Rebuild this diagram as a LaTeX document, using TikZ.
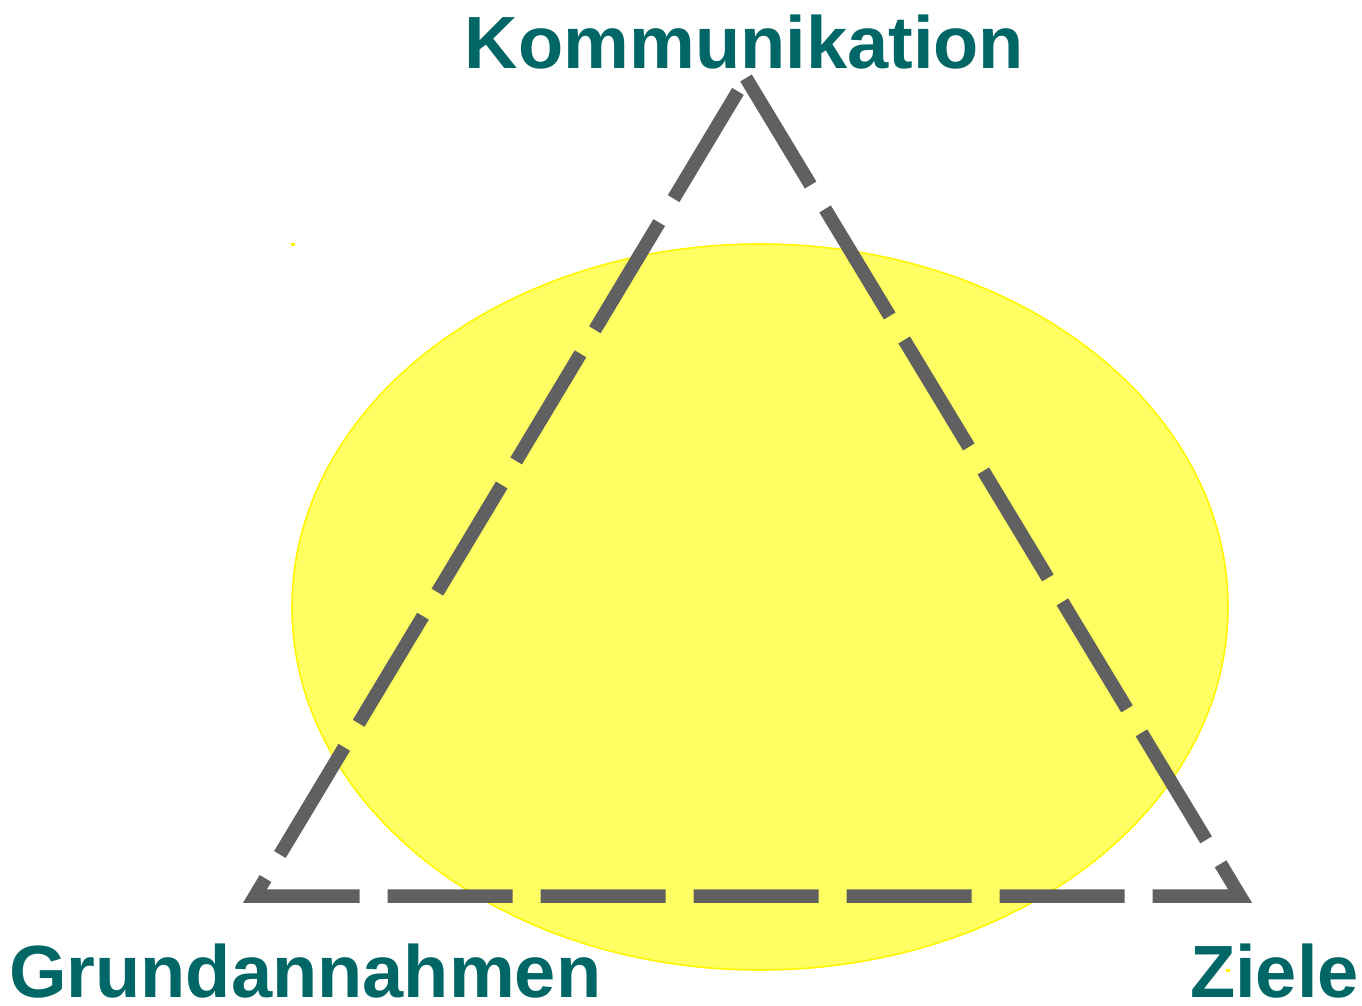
\documentclass[tikz,border=0pt]{standalone}
\usepackage{fontspec}
\setmainfont{Liberation Sans}
\begin{document}
\begin{tikzpicture}[x=1pt,y=-1pt,
  lbl/.style={text=teal66, font=\fontsize{74}{80}\selectfont\bfseries, inner sep=0pt},
  tri/.style={draw=grey60, line width=13.5pt, line cap=butt, line join=miter, dash pattern=on 125pt off 28pt},
  blob/.style={fill=yellowfill, draw=yellowline, line width=1.6pt},
  speck/.style={fill=yellowline, draw=none}]
\definecolor{teal66}{RGB}{0,102,102}
\definecolor{grey60}{RGB}{96,96,96}
\definecolor{yellowfill}{RGB}{255,255,100}
\definecolor{yellowline}{RGB}{255,245,0}
\useasboundingbox[fill=white] (0,0) rectangle (1362,1005);
% ellipse
\coordinate (E) at (760,607);
\draw[blob] (E) ellipse [x radius=468pt, y radius=363pt];
\fill[speck] (291,243) rectangle (295,246);
\fill[speck] (1226,969) rectangle (1230,972);
% triangle corners
\coordinate (A) at (746,78);
\coordinate (R) at (1240,896);
\coordinate (L) at (255,896);
\draw[tri] (A) -- (R) -- (L) -- (A);
% labels
\node[lbl, anchor=base] (kom) at (744.5,68) {Kommunikation};
\node[lbl, anchor=base west] (grund) at (9,997) {Grundannahmen};
\node[lbl, anchor=base east] (ziele) at (1359,997) {Ziele};
\end{tikzpicture}
\end{document}
